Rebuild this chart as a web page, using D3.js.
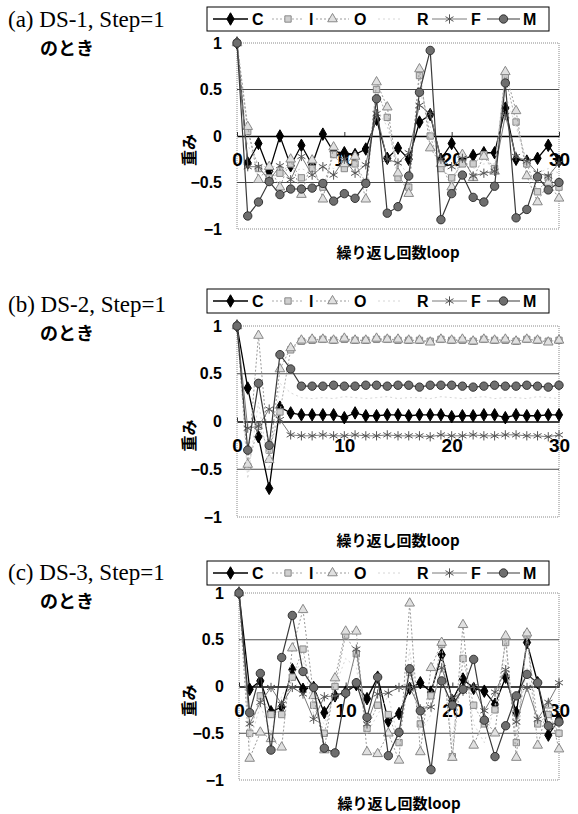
<!DOCTYPE html>
<html>
<head>
<meta charset="utf-8">
<script src="https://cdn.jsdelivr.net/npm/d3@7"></script>
<style>
body { margin: 0; background: #fff; }
</style>
</head>
<body>
<svg id="chart" width="578" height="814"></svg>
<script>
var loops = [0,1,2,3,4,5,6,7,8,9,10,11,12,13,14,15,16,17,18,19,20,21,22,23,24,25,26,27,28,29,30];
var seriesNames = ["C", "I", "O", "R", "F", "M"];
var yTicks = [-1, -0.5, 0, 0.5, 1];
var xTicks = [0, 10, 20, 30];
var xTitle = "繰り返し回数loop";
var yTitle = "重み";
var panelTitles = ["(a) DS-1, Step=1", "(b) DS-2, Step=1", "(c) DS-3, Step=1"];
var subTitle = "のとき";

// (a) DS-1
var cA = [1,-0.29,-0.08,-0.38,0.0,-0.32,-0.1,-0.31,0.02,-0.17,-0.18,-0.2,-0.14,0.18,-0.24,-0.13,-0.25,0.15,0.23,-0.25,-0.08,-0.25,-0.21,-0.18,-0.18,0.3,-0.25,-0.27,-0.24,-0.1,-0.27];
var iA = [1,0.05,-0.35,-0.45,-0.4,-0.3,-0.45,-0.35,-0.55,-0.2,-0.35,-0.3,-0.5,0.5,0.2,-0.45,-0.55,0.65,0.0,-0.35,-0.45,-0.3,-0.3,-0.2,-0.35,0.63,0.15,-0.3,-0.6,-0.45,-0.55];
var oA = [1,0.1,-0.47,-0.33,-0.55,-0.25,-0.63,-0.26,-0.68,-0.12,-0.3,-0.22,-0.68,0.58,0.31,-0.4,-0.62,0.72,-0.13,-0.3,-0.55,-0.2,-0.45,-0.22,-0.38,0.69,0.27,-0.43,-0.71,-0.5,-0.67];
var rA = [1,-0.1,-0.3,-0.35,-0.3,-0.4,-0.35,-0.4,-0.3,-0.35,-0.3,-0.35,-0.3,0.3,0.1,-0.3,-0.4,0.5,0.1,-0.3,-0.35,-0.3,-0.35,-0.3,-0.3,0.45,0.1,-0.3,-0.4,-0.35,-0.4];
var fA = [1,-0.33,-0.33,-0.48,-0.32,-0.47,-0.22,-0.42,-0.33,-0.42,-0.25,-0.4,-0.31,0.24,-0.25,-0.29,-0.18,0.33,0.24,-0.25,-0.33,-0.24,-0.43,-0.4,-0.38,0.22,-0.22,-0.27,-0.4,-0.43,-0.29];
var mA = [1,-0.86,-0.71,-0.49,-0.63,-0.57,-0.57,-0.56,-0.51,-0.7,-0.62,-0.67,-0.51,0.4,-0.83,-0.76,-0.43,0.47,0.92,-0.9,-0.62,-0.42,-0.66,-0.71,-0.54,0.57,-0.88,-0.79,-0.44,-0.58,-0.5];

// (b) DS-2
var cB = [1,0.35,-0.16,-0.7,0.15,0.09,0.07,0.07,0.07,0.07,0.04,0.09,0.06,0.06,0.07,0.07,0.06,0.07,0.07,0.07,0.05,0.06,0.06,0.07,0.07,0.04,0.07,0.06,0.06,0.07,0.07];
var iB = [1,-0.47,-0.05,-0.3,0.1,0.75,0.84,0.85,0.86,0.85,0.86,0.85,0.85,0.86,0.86,0.85,0.85,0.85,0.84,0.86,0.85,0.85,0.84,0.86,0.85,0.85,0.84,0.86,0.85,0.84,0.85];
var oB = [1,-0.45,0.9,-0.4,0.55,0.77,0.85,0.86,0.86,0.85,0.87,0.85,0.85,0.87,0.86,0.86,0.85,0.85,0.83,0.86,0.85,0.86,0.84,0.86,0.85,0.86,0.84,0.86,0.85,0.83,0.85];
var rB = [1,-0.6,0.2,-0.5,0.4,0.3,0.25,0.24,0.25,0.24,0.26,0.25,0.24,0.25,0.26,0.24,0.25,0.25,0.24,0.26,0.25,0.24,0.25,0.26,0.24,0.25,0.25,0.24,0.26,0.25,0.24];
var fB = [1,-0.07,-0.05,0.13,0.02,-0.14,-0.15,-0.15,-0.14,-0.15,-0.15,-0.14,-0.15,-0.15,-0.14,-0.15,-0.15,-0.15,-0.16,-0.14,-0.15,-0.15,-0.14,-0.15,-0.15,-0.14,-0.14,-0.15,-0.15,-0.16,-0.14];
var mB = [1,-0.3,0.4,-0.25,0.7,0.55,0.37,0.37,0.37,0.38,0.37,0.37,0.38,0.38,0.37,0.38,0.38,0.36,0.38,0.38,0.38,0.37,0.36,0.37,0.38,0.37,0.37,0.38,0.37,0.36,0.38];

// (c) DS-3
var cC = [1,-0.03,0.06,-0.27,-0.22,0.18,-0.03,-0.01,-0.28,-0.1,-0.06,0.02,-0.13,0.1,-0.37,-0.29,-0.02,0.04,-0.06,0.34,-0.15,0.08,-0.02,-0.05,-0.19,0.1,-0.28,0.47,0.04,-0.52,-0.35];
var iC = [1,-0.5,-0.1,-0.3,-0.3,0.1,0.4,-0.2,-0.5,0.0,0.55,0.35,-0.45,-0.2,-0.3,-0.6,0.15,-0.4,-0.1,0.45,-0.75,0.3,-0.2,-0.4,-0.25,0.47,-0.6,0.55,-0.4,-0.3,-0.5];
var oC = [1,-0.77,-0.49,-0.56,-0.65,0.41,0.82,-0.1,-0.68,0.09,0.59,0.59,-0.7,-0.72,-0.5,-0.79,0.89,-0.7,0.2,0.47,-0.76,0.66,-0.63,-0.35,-0.5,0.54,-0.76,0.57,-0.63,-0.2,-0.67];
var rC = [1,-0.6,-0.2,-0.5,-0.1,0.1,0.3,-0.3,-0.4,0.0,0.3,0.2,-0.5,-0.3,-0.1,-0.6,0.4,-0.5,-0.3,0.3,-0.6,0.4,-0.4,-0.6,-0.2,0.3,-0.5,0.2,-0.4,-0.3,-0.5];
var fC = [1,-0.4,-0.17,-0.01,-0.19,-0.01,-0.08,-0.35,-0.11,-0.1,-0.07,0.4,-0.4,-0.08,-0.07,-0.01,-0.01,-0.24,-0.22,0.2,-0.13,-0.05,0.0,-0.26,-0.06,0.18,-0.38,-0.01,-0.35,-0.17,0.04];
var mC = [1,-0.28,0.14,-0.68,0.31,0.76,0.16,-0.01,-0.66,-0.71,-0.07,0.04,-0.33,0.1,-0.74,-0.49,0.19,-0.26,-0.89,0.06,-0.2,-0.03,0.29,-0.36,-0.75,-0.42,-0.1,0.13,0.04,-0.42,-0.38];

var panelData = [[cA, iA, oA, rA, fA, mA], [cB, iB, oB, rB, fB, mB], [cC, iC, oC, rC, fC, mC]];

var styles = {
  C: {stroke: "#000", width: 1.3, dash: null, symbol: d3.symbolDiamond, size: 45, fill: "#000", mstroke: "#000"},
  I: {stroke: "#aaa", width: 1, dash: "2,2", symbol: d3.symbolSquare, size: 40, fill: "#cfcfcf", mstroke: "#888"},
  O: {stroke: "#9a9a9a", width: 1, dash: "2,2", symbol: d3.symbolTriangle, size: 40, fill: "#e0e0e0", mstroke: "#888"},
  R: {stroke: "#d6d6d6", width: 1, dash: "2,3", symbol: null},
  F: {stroke: "#7a7a7a", width: 1, dash: null, symbol: d3.symbolAsterisk, size: 60, fill: "none", mstroke: "#555"},
  M: {stroke: "#3a3a3a", width: 1.2, dash: null, symbol: d3.symbolCircle, size: 55, fill: "#6e6e6e", mstroke: "#333"}
};

function main() {
  var svg = d3.select("#chart");
  svg.append("rect").attr("width", 578).attr("height", 814).attr("fill", "#fff");

  var tops = [43, 326, 593];
  var bottoms = [229, 517, 780];
  var lefts = [237, 237, 239];
  var right = 559;
  var legendTops = [7, 289, 561];
  var titleYs = [27, 312, 580];

  panelData.forEach(function(series, p) {
    var g = svg.append("g");
    var x = d3.scaleLinear().domain([0, 30]).range([lefts[p], right]);
    var y = d3.scaleLinear().domain([-1, 1]).range([bottoms[p], tops[p]]);

    // titles on the left
    g.append("text").attr("x", 8).attr("y", titleYs[p])
      .attr("font-family", "Liberation Serif, Times New Roman, serif")
      .attr("font-size", 23).attr("fill", "#000").text(panelTitles[p]);
    g.append("text").attr("x", 40).attr("y", titleYs[p] + 28)
      .attr("font-family", "Noto Sans CJK JP, sans-serif").attr("font-weight", "bold")
      .attr("font-size", 18).attr("fill", "#000").text(subTitle);

    // plot frame and gridlines
    g.append("rect").attr("x", lefts[p]).attr("y", tops[p])
      .attr("width", right - lefts[p]).attr("height", bottoms[p] - tops[p])
      .attr("fill", "none").attr("stroke", "#8a8a8a").attr("stroke-dasharray", "1,1");
    g.selectAll(".grid").data([0.5, -0.5]).enter().append("line")
      .attr("x1", lefts[p]).attr("x2", right)
      .attr("y1", function(d) { return y(d); }).attr("y2", function(d) { return y(d); })
      .attr("stroke", "#4a4a4a").attr("stroke-width", 1);

    // y axis
    var yAxis = g.append("g").attr("transform", "translate(" + lefts[p] + ",0)")
      .call(d3.axisLeft(y).tickValues(yTicks).tickSize(0).tickPadding(15)
        .tickFormat(function(d) { return d < 0 ? "\u2212" + Math.abs(d) : String(d); }));
    yAxis.select(".domain").remove();
    yAxis.selectAll("text").attr("font-family", "Liberation Sans, Arial, sans-serif")
      .attr("font-weight", "bold").attr("font-size", 16).attr("fill", "#000");

    // x axis at zero
    var xAxis = g.append("g").attr("transform", "translate(0," + y(0) + ")")
      .call(d3.axisBottom(x).tickValues(xTicks).tickSizeInner(-4).tickSizeOuter(0).tickPadding(17));
    xAxis.select(".domain").attr("stroke", "#000").attr("stroke-width", 1.5);
    xAxis.selectAll(".tick line").attr("stroke", "#333");
    xAxis.selectAll("text").attr("font-family", "Liberation Sans, Arial, sans-serif")
      .attr("font-weight", "bold").attr("font-size", 19).attr("fill", "#000");

    // axis titles
    g.append("text").attr("x", (lefts[p] + right) / 2).attr("y", bottoms[p] + 29)
      .attr("text-anchor", "middle").attr("font-family", "Noto Sans CJK JP, sans-serif")
      .attr("font-weight", "bold").attr("font-size", 15).attr("fill", "#000").text(xTitle);
    var yc = (tops[p] + bottoms[p]) / 2 + 14;
    g.append("text").attr("transform", "translate(195," + yc + ") rotate(-90)")
      .attr("text-anchor", "middle").attr("font-family", "Noto Sans CJK JP, sans-serif")
      .attr("font-weight", "bold").attr("font-size", 16).attr("fill", "#000").text(yTitle);

    // series
    series.forEach(function(vals, s) {
      var st = styles[seriesNames[s]];
      var pts = loops.map(function(l, i) { return [l, vals[i]]; });
      var line = d3.line().x(function(d) { return x(d[0]); }).y(function(d) { return y(d[1]); });
      g.append("path").datum(pts).attr("d", line).attr("fill", "none")
        .attr("stroke", st.stroke).attr("stroke-width", st.width)
        .attr("stroke-dasharray", st.dash);
      if (st.symbol) {
        g.selectAll(".m" + s).data(pts).enter().append("path")
          .attr("transform", function(d) { return "translate(" + x(d[0]) + "," + y(d[1]) + ")"; })
          .attr("d", d3.symbol().type(st.symbol).size(st.size))
          .attr("fill", st.fill).attr("stroke", st.mstroke).attr("stroke-width", 1);
      }
    });

    // legend
    var lt = legendTops[p];
    var leg = g.append("g");
    leg.append("rect").attr("x", 207).attr("y", lt).attr("width", 342).attr("height", 24)
      .attr("fill", "#fff").attr("stroke", "#000").attr("stroke-width", 1);
    var legX = [[213, 248, 252], [272, 304, 309], [316, 349, 354], [378, 402, 417], [432, 467, 471], [487, 520, 523]];
    seriesNames.forEach(function(name, s) {
      var st = styles[name];
      var cy = lt + 12;
      leg.append("line").attr("x1", legX[s][0]).attr("x2", legX[s][1]).attr("y1", cy).attr("y2", cy)
        .attr("stroke", st.stroke).attr("stroke-width", st.width).attr("stroke-dasharray", st.dash);
      if (st.symbol) {
        leg.append("path").attr("transform", "translate(" + (legX[s][0] + legX[s][1]) / 2 + "," + cy + ")")
          .attr("d", d3.symbol().type(st.symbol).size(st.size))
          .attr("fill", st.fill).attr("stroke", st.mstroke).attr("stroke-width", 1);
      }
      leg.append("text").attr("x", legX[s][2]).attr("y", cy + 6)
        .attr("font-family", "Liberation Sans, Arial, sans-serif").attr("font-weight", "bold")
        .attr("font-size", 16).attr("fill", "#000").text(name);
    });
  });
}

main();
</script>
</body>
</html>
